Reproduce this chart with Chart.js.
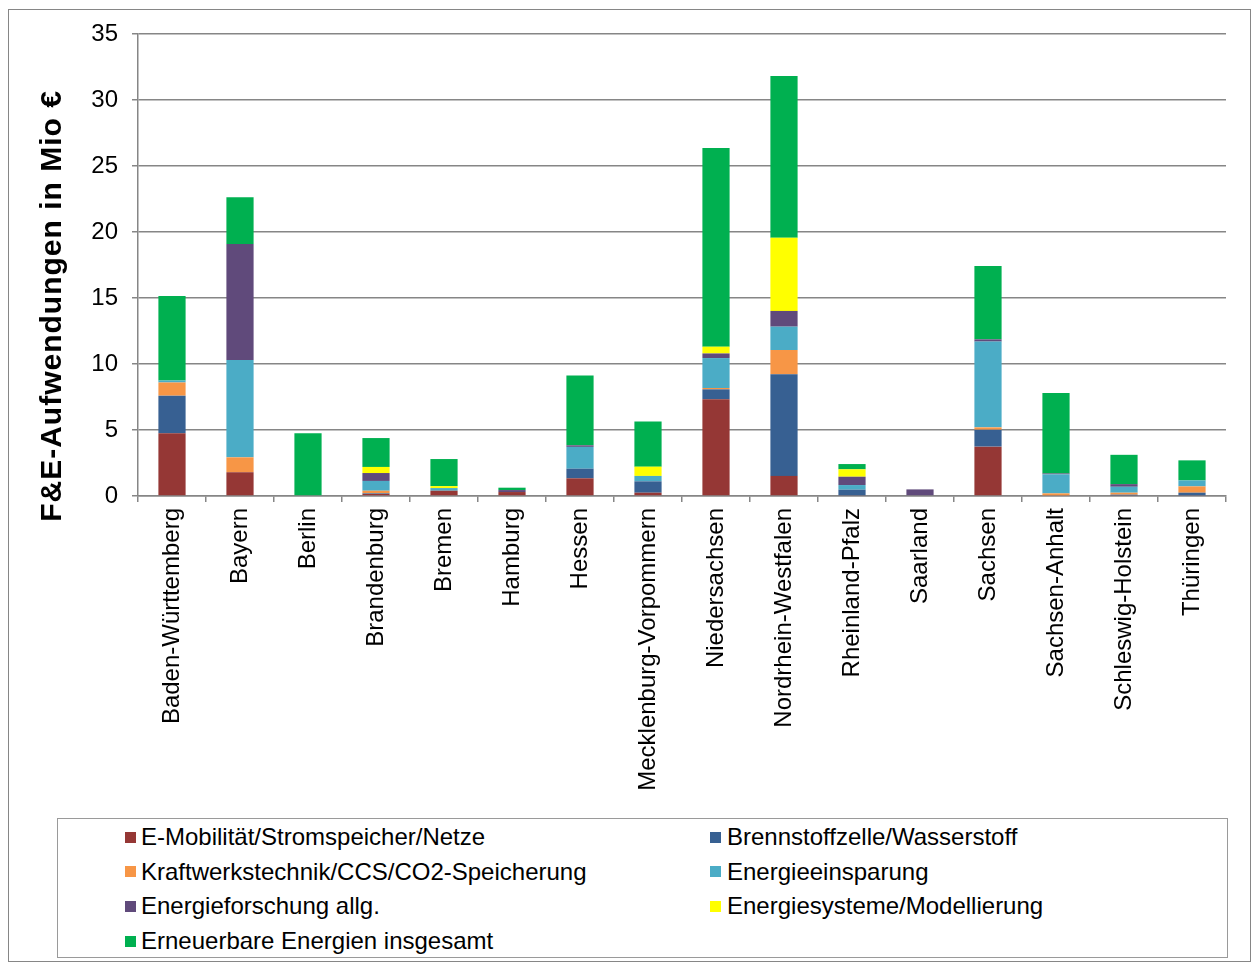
<!DOCTYPE html>
<html><head><meta charset="utf-8">
<script src="https://cdn.jsdelivr.net/npm/chart.js@4"></script>
<style>
body{margin:0;background:#fff;}
#wrap{position:relative;width:1255px;height:968px;overflow:hidden;font-family:'Liberation Sans',Arial,sans-serif;background:#fff;}
#frame{position:absolute;left:8px;top:9px;width:1243px;height:953px;border:1px solid #868686;box-sizing:border-box;}
canvas{position:absolute;left:0;top:0;}
#legend{position:absolute;left:57px;top:818px;width:1171px;height:140px;border:1px solid #9a9a9a;box-sizing:border-box;background:#fff;}
.txt{position:absolute;font-size:24px;line-height:28px;color:#000;white-space:nowrap;}
.sw{position:absolute;width:11px;height:11px;}
</style>
</head><body>
<div id="wrap">
<div id="frame"></div>
<canvas id="c" width="1255" height="968"></canvas>
<div id="legendHolder"></div>
</div>
<script>
const categories = ["Baden-Württemberg","Bayern","Berlin","Brandenburg","Bremen","Hamburg","Hessen","Mecklenburg-Vorpommern","Niedersachsen","Nordrhein-Westfalen","Rheinland-Pfalz","Saarland","Sachsen","Sachsen-Anhalt","Schleswig-Holstein","Thüringen"];
const eMobilitaet      = [4.75, 1.80, 0,    0.15, 0.40, 0.30, 1.34, 0.25, 7.33, 1.52, 0.05, 0,    3.74, 0.05, 0.05, 0.05];
const brennstoffzelle  = [2.85, 0,    0,    0.05, 0,    0,    0.73, 0.86, 0.75, 7.70, 0.43, 0,    1.28, 0,    0.05, 0.20];
const kraftwerk        = [1.00, 1.13, 0,    0.20, 0,    0,    0,    0,    0.10, 1.84, 0,    0,    0.18, 0.15, 0.15, 0.48];
const energieeinsparung= [0.15, 7.37, 0,    0.74, 0.20, 0,    1.65, 0.41, 2.27, 1.77, 0.35, 0,    6.50, 1.44, 0.45, 0.45];
const energieforschung = [0,    8.79, 0,    0.60, 0,    0.15, 0.12, 0,    0.35, 1.19, 0.63, 0.50, 0.17, 0.07, 0.20, 0];
const energiesysteme   = [0,    0,    0,    0.46, 0.15, 0,    0,    0.70, 0.51, 5.55, 0.56, 0,    0,    0,    0,    0];
const erneuerbare      = [6.40, 3.54, 4.75, 2.19, 2.05, 0.18, 5.28, 3.43, 15.05,12.25,0.40, 0,    5.55, 6.09, 2.22, 1.52];
const seriesNames = ["E-Mobilität/Stromspeicher/Netze","Brennstoffzelle/Wasserstoff","Kraftwerkstechnik/CCS/CO2-Speicherung","Energieeinsparung","Energieforschung allg.","Energiesysteme/Modellierung","Erneuerbare Energien insgesamt"];
const yTitle = "F&E-Aufwendungen in Mio €";

const seriesValues = [eMobilitaet, brennstoffzelle, kraftwerk, energieeinsparung, energieforschung, energiesysteme, erneuerbare];
const seriesColors = ["#953735","#376092","#F79646","#4BACC6","#604A7B","#FFFF00","#00B050"];
const FONT = "'Liberation Sans', Arial, sans-serif";

const titlePlugin = {
  id:'ytitle',
  afterDraw(chart){
    const ctx = chart.ctx;
    ctx.save();
    ctx.translate(53, 306);
    ctx.rotate(-Math.PI/2);
    ctx.font = "bold 30px " + FONT;
    try { ctx.letterSpacing = '1px'; } catch(e){}
    ctx.fillStyle = '#000';
    ctx.textAlign = 'center';
    ctx.textBaseline = 'middle';
    ctx.fillText(yTitle, 0, 0);
    ctx.restore();
  }
};

const chart = new Chart(document.getElementById('c'), {
  type:'bar',
  data:{
    labels: categories,
    datasets: seriesValues.map((v,i)=>({label:seriesNames[i], data:v, backgroundColor:seriesColors[i], borderWidth:0, barPercentage:0.4, categoryPercentage:1.0}))
  },
  options:{
    responsive:false, animation:false, devicePixelRatio:1,
    layout:{padding:{left:26,right:29,top:34,bottom:172}},
    plugins:{legend:{display:false}, tooltip:{enabled:false}},
    scales:{
      x:{stacked:true,
         grid:{display:true, drawOnChartArea:false, drawTicks:true, tickLength:6, color:'#868686', lineWidth:1.5, offset:true},
         border:{color:'#868686', width:1.5},
         ticks:{font:{size:24,family:FONT}, color:'#000', minRotation:90, maxRotation:90, autoSkip:false, padding:6},
         afterFit(s){ s.height = 300; }},
      y:{stacked:true, min:0, max:35,
         ticks:{stepSize:5, font:{size:24,family:FONT}, color:'#000', padding:14},
         grid:{color:'#868686', lineWidth:1.5, tickLength:6, drawTicks:true},
         border:{color:'#868686', width:1.5},
         afterFit(s){ s.width = 112; }}
    }
  },
  plugins:[titlePlugin]
});

// HTML legend built from the chart's datasets
const holder = document.getElementById('legendHolder');
const box = document.createElement('div'); box.id='legend'; holder.appendChild(box);
chart.data.datasets.forEach((ds,i)=>{
  const col = i%2, row = Math.floor(i/2);
  const cy = 836 + row*34.7 - 818;
  const sw = document.createElement('div'); sw.className='sw';
  sw.style.background = ds.backgroundColor;
  sw.style.left = ((col? 709:124) - 57) + 'px';
  sw.style.top = (cy - 5.5) + 'px';
  const t = document.createElement('div'); t.className='txt';
  t.textContent = ds.label;
  t.style.left = ((col? 726:140) - 57) + 'px';
  t.style.top = (cy - 14) + 'px';
  box.appendChild(sw); box.appendChild(t);
});
</script>
</body></html>
